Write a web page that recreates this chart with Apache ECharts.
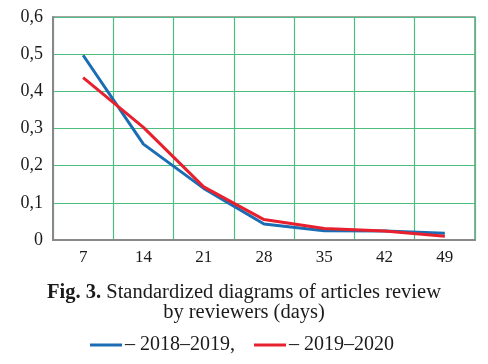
<!DOCTYPE html>
<html>
<head>
<meta charset="utf-8">
<script src="https://cdn.jsdelivr.net/npm/echarts@6/dist/echarts.min.js"></script>
<style>html,body{margin:0;padding:0;background:#fff}#c{width:488px;height:364px}</style>
</head>
<body>
<div id="c"></div>
<script>
var categories = ['7', '14', '21', '28', '35', '42', '49'];
var series2018 = [0.497, 0.258, 0.139, 0.043, 0.025, 0.024, 0.018];
var series2019 = [0.437, 0.303, 0.143, 0.055, 0.031, 0.024, 0.010];
var seriesNames = ['2018–2019', '2019–2020'];
var yTicks = { min: 0, max: 0.6, interval: 0.1 };

var font = '"Liberation Serif", "Times New Roman", serif';
var green = '#4cbf80';
var chart = echarts.init(document.getElementById('c'));
chart.setOption({
  animation: false,
  backgroundColor: '#fff',
  grid: { left: 53, right: 13, top: 17, bottom: 124, show: true, borderColor: '#888', borderWidth: 1.5 },
  title: {
    left: 'center', top: 278,
    text: '{b|Fig. 3.} Standardized diagrams of articles review\nby reviewers (days)',
    textStyle: {
      fontFamily: font, fontSize: 20.5, fontWeight: 'normal', color: '#1a1a1a', lineHeight: 20,
      rich: { b: { fontFamily: font, fontSize: 20.5, fontWeight: 'bold', color: '#1a1a1a', lineHeight: 20 } }
    }
  },
  legend: {
    left: 85, top: 330, itemWidth: 32, itemHeight: 3, itemGap: 19, icon: 'rect',
    data: seriesNames,
    formatter: function (n) { return n === seriesNames[0] ? '– ' + n + ',' : '– ' + n; },
    textStyle: { fontFamily: font, fontSize: 20, color: '#1a1a1a', padding: [0, 0, 0, -2] }
  },
  xAxis: {
    type: 'category', data: categories, boundaryGap: true,
    axisLine: { lineStyle: { color: '#888', width: 2 } },
    axisTick: { show: false },
    axisLabel: { fontFamily: font, fontSize: 17, color: '#1a1a1a', margin: 9 },
    splitLine: { show: true, lineStyle: { color: green, width: 1.2 } }
  },
  yAxis: {
    type: 'value', min: yTicks.min, max: yTicks.max, interval: yTicks.interval,
    axisLine: { show: true, lineStyle: { color: '#888', width: 2 } },
    axisTick: { show: false },
    axisLabel: { fontFamily: font, fontSize: 18, color: '#1a1a1a', margin: 10,
      formatter: function (v) { return v === 0 ? '0' : v.toFixed(1).replace('.', ','); } },
    splitLine: { show: true, lineStyle: { color: green, width: 1.2 } }
  },
  series: [
    { name: seriesNames[0], type: 'line', data: series2018, showSymbol: false, z: 3,
      itemStyle: { color: '#1a6db3' }, lineStyle: { color: '#1a6db3', width: 3 } },
    { name: seriesNames[1], type: 'line', data: series2019, showSymbol: false, z: 4,
      itemStyle: { color: '#e8202e' }, lineStyle: { color: '#e8202e', width: 3 } }
  ]
});
</script>
</body>
</html>
